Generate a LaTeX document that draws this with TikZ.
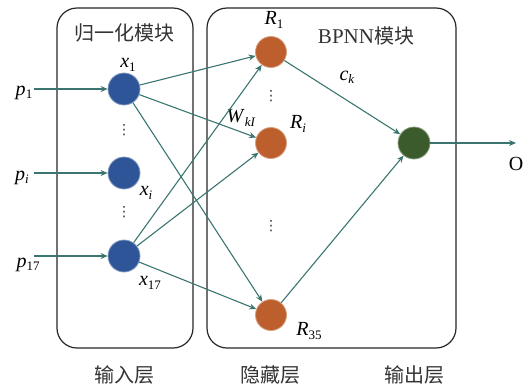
\documentclass[tikz,border=0pt]{standalone}
\usepackage{fontspec}
\setmainfont{Liberation Serif}
\newfontfamily\cjk{Noto Sans CJK SC}
\newfontfamily\dejavu{DejaVu Sans}
\usetikzlibrary{arrows.meta}
\definecolor{nblue}{HTML}{2E5597}
\definecolor{norange}{HTML}{BC5F2C}
\definecolor{ngreen}{HTML}{3B5B2C}
\definecolor{edgec}{HTML}{3A7570}
\newcommand\vsub[2]{\textit{#1}\raisebox{-0.35ex}{\fontsize{13}{13}\selectfont #2}}
\tikzset{
  module/.style={draw=black!85, line width=1.2pt, rounded corners=20pt},
  neuron/.style={circle, minimum size=32pt, inner sep=0pt, line width=0.8pt},
  inn/.style={neuron, fill=nblue, draw=nblue!60},
  hid/.style={neuron, minimum size=31pt, fill=norange, draw=norange!60},
  outn/.style={neuron, fill=ngreen, draw=ngreen!60},
  conn/.style={draw=edgec, line width=1.1pt, -{Stealth[length=7pt,width=6pt]}},
  lbl/.style={font=\fontsize{20}{20}\selectfont, inner sep=0pt},
  tlbl/.style={font=\fontsize{21}{21}\selectfont, text=black!80, inner sep=0pt},
  cjklbl/.style={font=\cjk\fontsize{20}{20}\selectfont, text=black!80, inner sep=0pt},
  vd/.style={font=\dejavu\fontsize{14}{14}\selectfont, text=black!80, inner sep=0pt},
}
\begin{document}
\begin{tikzpicture}[x=1pt,y=-1pt]
\useasboundingbox (0,0) rectangle (526,389);
\draw[module] (57,8) rectangle (193,348);
\draw[module] (207,8) rectangle (456,348);
\node[cjklbl] (t1) at (124,33) {归一化模块};
\node[tlbl] (t2) at (366,36) {BPNN{\cjk\fontsize{20}{20}\selectfont 模块}};
\node[cjklbl] (b1) at (124,375) {输入层};
\node[cjklbl] (b2) at (270,375) {隐藏层};
\node[cjklbl] (b3) at (414,375) {输出层};
% input nodes
\node[inn] (x1) at (124,89) {};
\node[inn] (xi) at (124,173) {};
\node[inn] (x17) at (124,256) {};
\node[hid] (r1) at (271,52) {};
\node[hid] (ri) at (271,143) {};
\node[hid] (r35) at (271,315) {};
\node[outn] (o) at (414,143) {};
% inputs
\node[lbl] (p1) at (24,93) {\vsub{p}{1}};
\node[lbl] (pi) at (22,178) {\vsub{p}{\textit{i}}};
\node[lbl] (p17) at (28,265) {\vsub{p}{17}};
\coordinate (p1e) at (34,89);
\coordinate (pie) at (34,173);
\coordinate (p17e) at (34,256);
\draw[conn] (p1e) -- (x1);
\draw[conn] (pie) -- (xi);
\draw[conn] (p17e) -- (x17);
% labels
\node[lbl] (lx1) at (128,65) {\vsub{x}{1}};
\node[lbl] (lxi) at (146,193) {\vsub{x}{\textit{i}}};
\node[lbl] (lx17) at (150,283) {\vsub{x}{17}};
\node[lbl] (lr1) at (274,20) {\vsub{R}{1}};
\node[lbl] (lri) at (298,124) {\vsub{R}{\textit{i}}};
\node[lbl] (lr35) at (309,331) {\vsub{R}{35}};
\node[lbl] (lw) at (241,118) {\vsub{W}{\textit{kI}}};
\node[lbl] (lc) at (347,77) {\vsub{c}{\textit{k}}};
\node[lbl] (lo) at (516,164) {O};
% dots
\node[vd] (d1) at (124,130) {⋮};
\node[vd] (d2) at (124,212) {⋮};
\node[vd] (d3) at (271,96) {⋮};
\node[vd] (d4) at (271,226) {⋮};
% connections
\draw[conn] (x1) -- (r1);
\draw[conn] (x1) -- (ri);
\draw[conn] (x1) -- (r35);
\draw[conn] (x17) -- (r1);
\draw[conn] (x17) -- (ri);
\draw[conn] (x17) -- (r35);
\draw[conn] (r1) -- (o);
\draw[conn] (r35) -- (o);
\coordinate (oe) at (516,143);
\draw[conn] (o) -- (oe);
\end{tikzpicture}
\end{document}
